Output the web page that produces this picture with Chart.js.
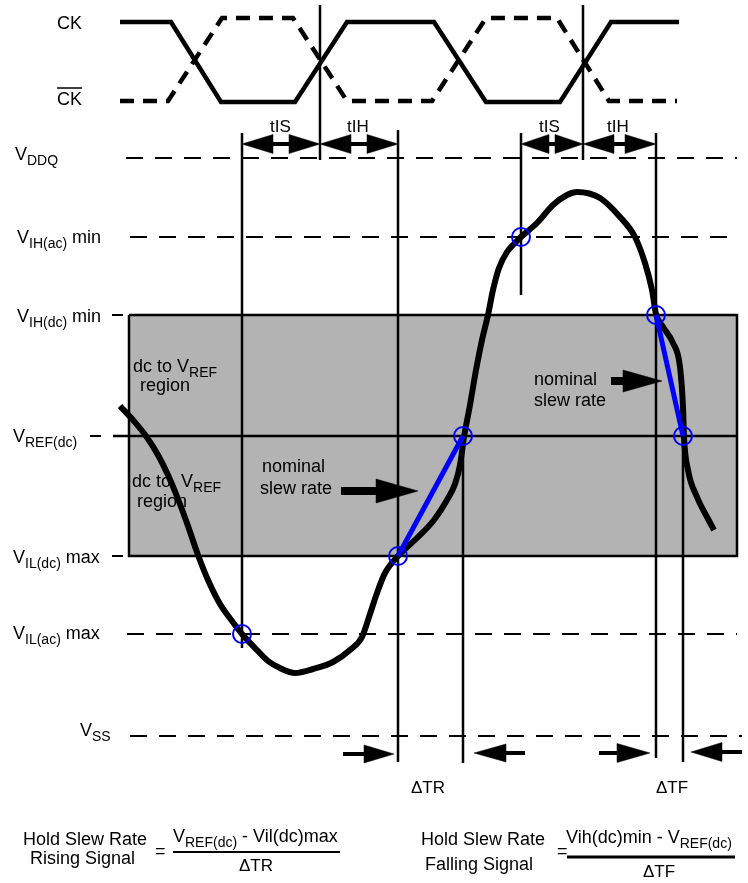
<!DOCTYPE html>
<html><head><meta charset="utf-8">
<script src="https://cdn.jsdelivr.net/npm/chart.js@4.4.0/dist/chart.umd.min.js"></script>
<style>html,body{margin:0;padding:0;background:#fff}canvas{display:block}</style>
</head><body>
<canvas id="c" width="748" height="883"></canvas>
<script>
// ---- Data (time on x, level on y; y axis reversed) ----
const ckTime = [120,171,221,295,347,434,486,560,611,679];
const ckLevel = [22,22,102,102,22,22,102,102,22,22];
const ckBarTime = [120,168,222,293,347,432,486,557,609,677];
const ckBarLevel = [101,101,18,18,101,101,18,18,101,101];

const levelNames = ['VDDQ','VIH(ac) min','VIH(dc) min','VREF(dc)','VIL(dc) max','VIL(ac) max','VSS'];
const levelValues = [158,237,315,436,556,634,736];

const waveTime = [120,133,146,158,168,178,188,198,208,220,232,242,255,268,280,295,313,333,350,362,370,377,385,398,417,434,447,455,460,464,470,476,482,488,493,499,507,514,521,537,553,567,577,600,620,635,645,652,656,663,673,680,683,684,688,697,707,714];
const waveLevel = [406,420,436,455,475,499,526,555,580,604,621,634,648,661,668,673,669,662,650,637,614,593,573,556,538,520,500,484,465,437,405,370,340,315,290,268,252,244,237,223,205,195,192,198,217,237,263,290,314,327,343,367,407,437,470,497,517,530];

const crossTime = [242,398,463,521,656,683];
const crossLevel = [634,556,436,237,315,436];

const setupStart = [242,521];
const clockEdge = [320,583];
const holdEnd = [398,656];
const deltaTR = [398,463];
const deltaTF = [656,683];

// ---- helpers ----
const ds = [];
function pts(xs, ys){ return xs.map((x,i)=>({x:x, y:ys[i]})); }
function line(xs, ys, o){
  ds.push(Object.assign({data:pts(xs,ys), showLine:true, pointRadius:0, pointHoverRadius:0,
    borderColor:'#000', borderWidth:2.5, fill:false, tension:0, order:50, borderCapStyle:'butt'}, o||{}));
}
function head(tip, y, dir, len, half, order){
  const b = tip - dir*len;
  line([b,tip,b,b],[y-half,y,y+half,y-half],{fill:'shape', backgroundColor:'#000', borderWidth:0.5, order:order||20});
}
function arrow(from, tip, y, len, half, shaftW){
  const dir = tip > from ? 1 : -1;
  const base = tip - dir*len;
  line([from, base + dir*2],[y,y],{borderWidth:shaftW, order:21});
  head(tip, y, dir, len, half);
}
function dbl(a, b, y){
  const len = Math.min(31, (b-a)/2 - 3);
  line([a+len-2, b-len+2],[y,y],{borderWidth:4, order:21});
  head(a, y, -1, len, 9.5);
  head(b, y, 1, len, 9.5);
}

// gray region box
line([129,737,737,129,129],[levelValues[2],levelValues[2],levelValues[4],levelValues[4],levelValues[2]],
  {fill:'shape', backgroundColor:'#b3b3b3', borderWidth:2.5, order:100});
line([113,737],[levelValues[3],levelValues[3]],{borderWidth:2.5, order:90});
// dashed level lines
const dashOpt = {borderWidth:2, borderDash:[17,12], order:60};
line([126,737],[levelValues[0],levelValues[0]],dashOpt);
line([130,737],[levelValues[1],levelValues[1]],dashOpt);
line([127,737],[levelValues[5],levelValues[5]],dashOpt);
line([130,742],[levelValues[6],levelValues[6]],dashOpt);
line([112,123],[levelValues[2],levelValues[2]],{borderWidth:2, order:60});
line([90,101],[levelValues[3],levelValues[3]],{borderWidth:2, order:60});
line([112,123],[levelValues[4],levelValues[4]],{borderWidth:2, order:60});
// vertical markers
[[setupStart[0],133,648],[clockEdge[0],5,160],[holdEnd[0],130,762],[deltaTR[1],436,763],
 [setupStart[1],133,295],[clockEdge[1],5,160],[holdEnd[1],133,758],[deltaTF[1],436,762]]
 .forEach(v=>line([v[0],v[0]],[v[1],v[2]],{borderWidth:2.5, order:45}));
// clocks
line(ckTime, ckLevel, {borderWidth:4.5, order:40});
line(ckBarTime, ckBarLevel, {borderWidth:4.5, borderDash:[14,9], order:40});
// timing arrows
dbl(setupStart[0], clockEdge[0], 144);
dbl(clockEdge[0], holdEnd[0], 144);
dbl(setupStart[1], clockEdge[1], 144);
dbl(clockEdge[1], holdEnd[1], 144);
// waveform
line(waveTime, waveLevel, {borderWidth:6, cubicInterpolationMode:'monotone', order:10});
// nominal slew lines
line(deltaTR,[levelValues[4],levelValues[3]],{borderColor:'#0000ff', borderWidth:5, order:5});
line(deltaTF,[levelValues[2],levelValues[3]],{borderColor:'#0000ff', borderWidth:5, order:5});
// crossing circles
ds.push({data:pts(crossTime,crossLevel), showLine:false, pointRadius:9, pointHoverRadius:9,
  pointBorderWidth:2, pointBorderColor:'#0000ff', pointBackgroundColor:'rgba(0,0,0,0)', order:1});
// nominal slew rate arrows
arrow(341, 418, 491, 42, 12, 8);
arrow(611, 662, 381, 39, 11, 8);
// delta arrows
arrow(343, deltaTR[0]-4, 754, 30, 9, 4);
arrow(525, deltaTR[1]+11, 753, 32, 9, 4);
arrow(599, deltaTF[0]-6, 753, 33, 9.5, 4);
arrow(742, deltaTF[1]+8, 752, 31, 9.5, 4);
// fraction bars
line([173,340],[852,852],{borderWidth:2, order:30});
line([567,735],[857,857],{borderWidth:3, order:30});

// ---- text ----
const FONT = '"Liberation Sans", Arial, Helvetica, sans-serif';
const N='n', S='s';
const textItems = [
  {t:57, v:29, parts:[['CK',N]]},
  {t:57, v:105, parts:[['CK',N]], over:88},
  {t:270, v:132, size:17, parts:[['tIS',N]]},
  {t:347, v:132, size:17, parts:[['tIH',N]]},
  {t:539, v:132, size:17, parts:[['tIS',N]]},
  {t:607, v:132, size:17, parts:[['tIH',N]]},
  {t:15, v:160, parts:[['V',N],['DDQ',S]]},
  {t:17, v:243, parts:[['V',N],['IH(ac)',S],[' min',N]]},
  {t:17, v:322, parts:[['V',N],['IH(dc)',S],[' min',N]]},
  {t:13, v:442, parts:[['V',N],['REF(dc)',S]]},
  {t:13, v:563, parts:[['V',N],['IL(dc)',S],[' max',N]]},
  {t:13, v:639, parts:[['V',N],['IL(ac)',S],[' max',N]]},
  {t:80, v:736, parts:[['V',N],['SS',S]]},
  {t:133, v:372, parts:[['dc to V',N],['REF',S]]},
  {t:140, v:391, parts:[['region',N]]},
  {t:132, v:487, parts:[['dc to  V',N],['REF',S]]},
  {t:137, v:507, parts:[['region',N]]},
  {t:262, v:472, parts:[['nominal',N]]},
  {t:260, v:494, parts:[['slew rate',N]]},
  {t:534, v:385, parts:[['nominal',N]]},
  {t:534, v:406, parts:[['slew rate',N]]},
  {t:428, v:793, size:17, align:'center', parts:[['\u0394TR',N]]},
  {t:672, v:793, size:17, align:'center', parts:[['\u0394TF',N]]},
  {t:23, v:845, parts:[['Hold Slew Rate',N]]},
  {t:30, v:864, parts:[['Rising Signal',N]]},
  {t:155, v:857, parts:[['=',N]]},
  {t:173, v:842, parts:[['V',N],['REF(dc)',S],[' - Vil(dc)max',N]]},
  {t:256, v:871, size:17, align:'center', parts:[['\u0394TR',N]]},
  {t:421, v:845, parts:[['Hold Slew Rate',N]]},
  {t:425, v:870, parts:[['Falling Signal',N]]},
  {t:557, v:857, parts:[['=',N]]},
  {t:566, v:843, parts:[['Vih(dc)min - V',N],['REF(dc)',S]]},
  {t:659, v:877, size:17, align:'center', parts:[['\u0394TF',N]]}
];
function fontFor(size, sub){ return (sub ? Math.round(size*0.78) : size) + 'px ' + FONT; }
const textPlugin = {
  id:'richLabels',
  afterDatasetsDraw(chart){
    const ctx = chart.ctx, xs = chart.scales.x, ys = chart.scales.y;
    ctx.save();
    ctx.fillStyle = '#000';
    ctx.textBaseline = 'alphabetic';
    ctx.textAlign = 'left';
    for (const it of textItems){
      const size = it.size || 18;
      let w = 0;
      for (const p of it.parts){ ctx.font = fontFor(size, p[1]===S); w += ctx.measureText(p[0]).width; }
      const px = xs.getPixelForValue(it.t), py = ys.getPixelForValue(it.v);
      let cx = it.align === 'center' ? px - w/2 : px;
      const start = cx;
      for (const p of it.parts){
        const sub = p[1]===S;
        ctx.font = fontFor(size, sub);
        ctx.fillText(p[0], cx, py + (sub ? 5 : 0));
        cx += ctx.measureText(p[0]).width;
      }
      if (it.over !== undefined){
        const oy = ys.getPixelForValue(it.over);
        ctx.strokeStyle = '#000'; ctx.lineWidth = 1.5;
        ctx.beginPath(); ctx.moveTo(start, oy); ctx.lineTo(cx, oy); ctx.stroke();
      }
    }
    ctx.restore();
  }
};

new Chart(document.getElementById('c'), {
  type:'scatter',
  data:{datasets:ds},
  options:{
    responsive:false, animation:false, events:[],
    layout:{padding:0, autoPadding:false},
    plugins:{legend:{display:false}, tooltip:{enabled:false}},
    scales:{
      x:{type:'linear', min:0, max:748, display:false},
      y:{type:'linear', min:0, max:883, reverse:true, display:false}
    }
  },
  plugins:[textPlugin]
});
</script>
</body></html>
